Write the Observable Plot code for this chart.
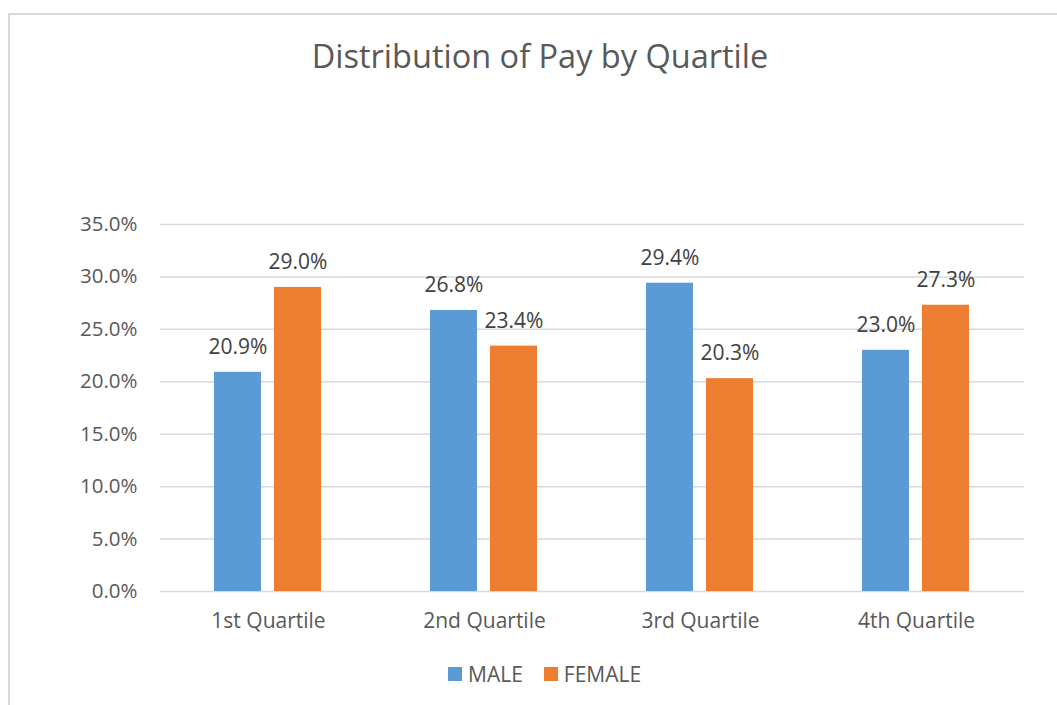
<!DOCTYPE html>
<html>
<head>
<meta charset="utf-8">
<script src="https://cdn.jsdelivr.net/npm/d3@7"></script>
<script src="https://cdn.jsdelivr.net/npm/@observablehq/plot@0.6"></script>
<style>
  html, body { margin: 0; padding: 0; background: #fff; }
  #wrap { position: relative; width: 1057px; height: 705px; overflow: hidden; font-family: "Open Sans", sans-serif; color: #595959; }
  #frame { position: absolute; left: 8px; top: 13px; width: 1100px; height: 760px; border-left: 2px solid #d9d9d9; border-top: 2px solid #d9d9d9; }
  #title { position: absolute; left: 0; width: 1080px; top: 40px; text-align: center; font-size: 32.5px; line-height: 32px; color: #595959; }
  #chart { position: absolute; left: 0; top: 0; }
  #legend { position: absolute; top: 660px; left: 448px; display: flex; align-items: center; font-size: 21px; line-height: 28px; color: #595959; }
  #legend .sw { display: inline-block; width: 14px; height: 14px; margin-right: 6px; }
  #legend .item { display: flex; align-items: center; margin-right: 21px; }
</style>
</head>
<body>
<div id="wrap">
  <div id="frame"></div>
  <div id="chart"></div>
  <div id="title">Distribution of Pay by Quartile</div>
  <div id="legend"></div>
</div>
<script>
const quartiles = ["1st Quartile", "2nd Quartile", "3rd Quartile", "4th Quartile"];
const series = ["MALE", "FEMALE"];
const maleValues = [0.209, 0.268, 0.294, 0.230];
const femaleValues = [0.290, 0.234, 0.203, 0.273];
const yTicks = [0, 0.05, 0.10, 0.15, 0.20, 0.25, 0.30, 0.35];
const colors = ["#5B9BD5", "#ED7D31"];

const data = [];
quartiles.forEach((q, i) => {
  data.push({quartile: q, sex: "MALE", value: maleValues[i]});
  data.push({quartile: q, sex: "FEMALE", value: femaleValues[i]});
});

const pct = d => (d * 100).toFixed(1) + "%";

const chart = Plot.plot({
  width: 1057,
  height: 705,
  marginLeft: 160,
  marginRight: 33,
  marginTop: 224,
  marginBottom: 114,
  style: {fontFamily: "'Open Sans', sans-serif", fontSize: "21px", color: "#595959", background: "transparent", overflow: "visible"},
  fx: {domain: quartiles, padding: 0, label: null},
  x: {domain: series, paddingInner: 0.213, paddingOuter: 0.877, axis: null},
  y: {domain: [0, 0.35], label: null},
  color: {domain: series, range: colors},
  marks: [
    Plot.gridY(yTicks, {stroke: "#d9d9d9", strokeOpacity: 1, strokeWidth: 1.5}),
    Plot.barY(data, {fx: "quartile", x: "sex", y: "value", fill: "sex"}),
    Plot.text(data, {fx: "quartile", x: "sex", y: "value", text: d => pct(d.value), dy: -25, fill: "#404040", fontSize: 21}),
    Plot.axisY({ticks: yTicks, tickFormat: pct, tickSize: 0, tickPadding: 23, label: null, fontSize: 20.5}),
    Plot.axisFx({anchor: "bottom", tickSize: 0, tickPadding: 22, label: null, fontSize: 21})
  ]
});
document.getElementById("chart").appendChild(chart);

const legend = document.getElementById("legend");
series.forEach((s, i) => {
  const item = document.createElement("span");
  item.className = "item";
  const sw = document.createElement("span");
  sw.className = "sw";
  sw.style.background = colors[i];
  item.appendChild(sw);
  item.appendChild(document.createTextNode(s));
  legend.appendChild(item);
});
</script>
</body>
</html>
